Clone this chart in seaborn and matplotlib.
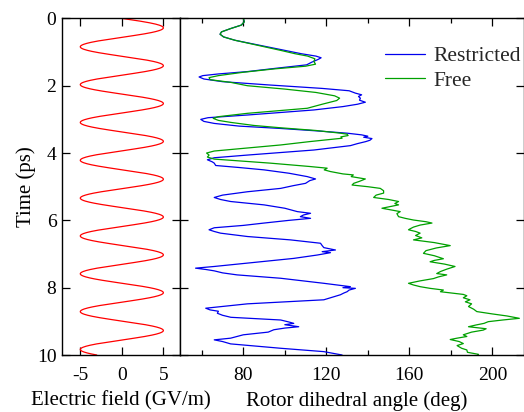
import numpy as np
import pandas as pd
import matplotlib
matplotlib.use("Agg")
import matplotlib.pyplot as plt
import seaborn as sns
from matplotlib.ticker import MultipleLocator

sns.set_theme(style="white")
plt.rcParams['font.family'] = ['Liberation Serif', 'DejaVu Serif']
plt.rcParams['mathtext.fontset'] = 'stix'

# ---- data ----
field_amplitude = 5.0      # GV/m
field_period = 1.124       # ps

restricted_t = [0.00, 0.10, 0.20, 0.30, 0.40, 0.47, 0.55, 0.65, 0.80, 0.95, 1.05, 1.12, 1.17, 1.22, 1.30,
                1.38, 1.48, 1.58, 1.65, 1.70, 1.74, 1.80, 1.88, 1.98, 2.08, 2.15, 2.22, 2.27, 2.32, 2.37,
                2.43, 2.49, 2.55, 2.62, 2.72, 2.87, 2.95, 3.00, 3.06, 3.12, 3.20, 3.27, 3.34, 3.41, 3.46,
                3.50, 3.53, 3.57, 3.62, 3.66, 3.72, 3.78, 3.91, 4.06, 4.14, 4.20, 4.26, 4.30, 4.37, 4.43,
                4.50, 4.60, 4.70, 4.74, 4.77, 4.82, 4.90, 4.97, 5.05, 5.15, 5.25, 5.32, 5.38, 5.44, 5.54,
                5.64, 5.74, 5.79, 5.84, 5.89, 5.94, 6.00, 6.08, 6.15, 6.22, 6.28, 6.33, 6.38, 6.48, 6.58,
                6.68, 6.75, 6.81, 6.85, 6.88, 6.93, 6.96, 7.03, 7.13, 7.27, 7.37, 7.42, 7.46, 7.50, 7.56,
                7.62, 7.72, 7.87, 7.97, 8.00, 8.02, 8.07, 8.12, 8.16, 8.21, 8.36, 8.48, 8.61, 8.66, 8.70,
                8.76, 8.82, 8.88, 8.96, 9.02, 9.06, 9.10, 9.16, 9.20, 9.25, 9.32, 9.40, 9.50, 9.55, 9.60,
                9.67, 9.80, 9.90, 10.00]
restricted_angle = [80, 80.5, 79, 74, 69.5, 68.8, 70.5, 76, 88, 100, 108, 115, 117.5, 116, 113,
                    110.5, 96, 82, 68, 60.5, 58.7, 61, 70, 93, 118, 131, 134, 137, 135.5, 136.4,
                    136, 138.8, 135, 128, 114, 82, 63, 59.5, 61, 66, 78, 98, 115, 130, 137,
                    140, 138, 142, 141, 139, 135, 131.6, 114, 82, 66, 62.7, 65, 66, 66.7, 78,
                    90, 102, 110.8, 113, 114.8, 112, 110, 104, 98, 82, 70, 66, 69, 73.9, 90,
                    100, 106, 112.4, 109, 107.5, 112.4, 102, 90, 80, 66, 63.5, 66, 69, 82, 102.7,
                    117.2, 118, 118.8, 122, 124.4, 118, 122, 115.6, 104.3, 82, 66, 57, 62, 66, 70,
                    77, 98, 118.8, 131.6, 128, 134, 131, 130, 128.4, 126.8, 118.8, 82, 61.9, 64, 68,
                    67.5, 70, 74, 98, 102, 104.3, 100, 106.7, 100, 94.7, 92, 80, 73.9, 66, 70,
                    73.9, 98, 118.8, 127.6]

free_t = [0.00, 0.10, 0.20, 0.30, 0.40, 0.47, 0.55, 0.65, 0.80, 0.95, 1.05, 1.12, 1.20, 1.28, 1.36,
          1.42, 1.50, 1.60, 1.70, 1.76, 1.82, 1.90, 2.00, 2.10, 2.20, 2.30, 2.37, 2.44, 2.55, 2.67,
          2.82, 2.92, 2.97, 3.03, 3.09, 3.18, 3.25, 3.33, 3.41, 3.44, 3.48, 3.52, 3.56, 3.66, 3.76,
          3.86, 3.94, 4.00, 4.06, 4.12, 4.18, 4.30, 4.40, 4.45, 4.50, 4.55, 4.62, 4.65, 4.70, 4.77,
          4.84, 4.90, 4.95, 5.00, 5.05, 5.12, 5.19, 5.25, 5.32, 5.38, 5.44, 5.50, 5.54, 5.60, 5.64,
          5.70, 5.74, 5.80, 5.89, 5.94, 5.99, 6.04, 6.08, 6.14, 6.20, 6.25, 6.28, 6.33, 6.38, 6.45,
          6.52, 6.58, 6.66, 6.75, 6.82, 6.90, 6.98, 7.05, 7.14, 7.19, 7.23, 7.30, 7.37, 7.45, 7.52,
          7.58, 7.62, 7.68, 7.73, 7.80, 7.87, 7.92, 7.97, 8.02, 8.07, 8.12, 8.20, 8.24, 8.30, 8.36,
          8.42, 8.48, 8.56, 8.64, 8.71, 8.78, 8.84, 8.91, 8.96, 9.01, 9.06, 9.11, 9.16, 9.22, 9.26,
          9.32, 9.40, 9.45, 9.50, 9.54, 9.60, 9.66, 9.72, 9.80, 9.85, 9.92, 9.98, 10.00]
free_angle = [80, 80.5, 79, 74, 69.5, 68.8, 70.5, 76, 87, 98, 105, 111, 114.5, 114, 114.8,
              110, 95, 80, 68, 63.5, 64, 73.9, 82, 100, 115, 124, 126.4, 125, 118, 110.8,
              82, 68, 65.5, 68, 74, 85, 98, 115, 126.8, 130, 130.5, 127, 127.6, 112, 98,
              80, 66, 62.3, 63.5, 62.7, 66, 93, 112, 120.4, 119, 122, 128, 133, 132, 138.8,
              136, 133.2, 132.4, 140, 146, 147.6, 147.6, 144, 142.8, 150, 154.8, 153, 154.8, 150, 146.8,
              152, 155.6, 154, 154.8, 158, 162, 168, 170.9, 165.2, 162, 160.4, 159.6, 163, 165.2, 163,
              166, 162, 172, 179.7, 173, 168, 166.8, 172, 176.4, 172, 170, 177, 182, 178, 175,
              173.2, 178, 174, 171.6, 165, 159.6, 162, 165.2, 170, 176.4, 175, 186, 187.7, 186, 189.2,
              187, 190, 188.5, 191, 192.5, 200, 207, 213, 205, 198, 196, 192, 188.5, 197, 195.6,
              190, 186, 187.7, 183, 179.7, 184, 186, 183, 185.2, 187.7, 188, 193.3, 193]

field_ticks = [-5, 0, 5]
time_ticks = [0, 2, 4, 6, 8, 10]
angle_ticks = [80, 120, 160, 200]

# ---- build tables ----
t_field = np.linspace(0, 10, 1001)
field_df = pd.DataFrame({"t": t_field,
                         "E": field_amplitude * np.sin(2 * np.pi * t_field / field_period)})
traj_df = pd.concat([
    pd.DataFrame({"t": restricted_t, "angle": restricted_angle, "run": "Restricted"}),
    pd.DataFrame({"t": free_t, "angle": free_angle, "run": "Free"}),
], ignore_index=True)

W, H = 524, 412
fig = plt.figure(figsize=(W / 100, H / 100), dpi=100)
top = 1 - 18.4 / H
bot = 1 - 355 / H
ax1 = fig.add_axes([62 / W, bot, 118 / W, top - bot])
ax2 = fig.add_axes([180 / W, bot, 343.5 / W, top - bot])

sns.lineplot(data=field_df, x="E", y="t", sort=False, estimator=None, color="red",
             lw=0.9, ax=ax1)
sns.lineplot(data=traj_df, x="angle", y="t", hue="run", sort=False, estimator=None,
             palette={"Restricted": "#0000ee", "Free": "#00a000"}, lw=0.9, ax=ax2)

TICK_FS = 14
LABEL_FS = 15

for ax in (ax1, ax2):
    ax.set_ylim(10, 0)
    for s in ax.spines.values():
        s.set_color("black")
        s.set_linewidth(1.0)
        s.set_visible(True)
    ax.tick_params(which="both", direction="in", top=True, bottom=True, left=True, right=True,
                   width=0.9, color="black", labelsize=TICK_FS, labelcolor="black")
    ax.tick_params(which="major", length=5.5)
    ax.tick_params(which="minor", length=3.5)
    ax.tick_params(axis="x", which="major", pad=8.5)
    ax.tick_params(axis="y", which="major", pad=4)
    ax.set_yticks(time_ticks)

ax1.set_xlim(-7.2, 7.0)
ax1.set_xticks(field_ticks)
ax1.set_xticklabels([str(v) for v in field_ticks])
ax1.set_yticklabels([str(v) for v in time_ticks])
ax1.set_xlabel("Electric field (GV/m)", fontsize=LABEL_FS, color="black")
ax1.set_ylabel("Time (ps)", fontsize=LABEL_FS, color="black")
ax1.xaxis.set_label_coords(0.5, -0.107)
ax1.yaxis.set_label_coords(-0.22, 0.5)

ax2.set_xlim(49.5, 215)
ax2.set_xticks(angle_ticks)
ax2.set_xticklabels([str(v) for v in angle_ticks])
ax2.xaxis.set_minor_locator(MultipleLocator(20))
ax2.set_yticklabels([])
ax2.set_ylabel("")
ax2.set_xlabel("Rotor dihedral angle (deg)", fontsize=LABEL_FS, color="black")
ax2.xaxis.set_label_coords(0.515, -0.107)

ax2.legend(title=None, loc="upper right", bbox_to_anchor=(521 / W, 1 - 46 / H),
           bbox_transform=fig.transFigure, frameon=False,
           fontsize=15.5, handlelength=1.85, handletextpad=0.4, labelspacing=0.21,
           borderaxespad=0, borderpad=0)

fig.savefig("out.png", dpi=100)
